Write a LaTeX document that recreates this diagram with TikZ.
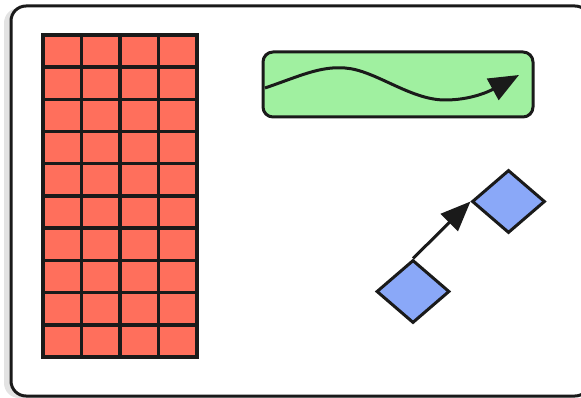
\documentclass[tikz,border=0pt]{standalone}
\usetikzlibrary{positioning,arrows.meta,shapes.geometric,shadows}
\definecolor{cellRed}{HTML}{FF6F5C}
\definecolor{waveGreen}{HTML}{A0F0A0}
\definecolor{gemBlue}{HTML}{8AA8F8}
\definecolor{inkDark}{HTML}{1A1A1A}

\begin{document}
\begin{tikzpicture}[
  x=1pt, y=-1pt,
  main/.style={-{Triangle[length=30pt,width=24pt]}, line width=3pt, draw=inkDark},
  frame/.style={
    rectangle,
    rounded corners=15pt,
    draw=inkDark,
    fill=white,
    line width=3pt,
    drop shadow={shadow xshift=-7pt, shadow yshift=-2pt, opacity=0.22}
  },
  cell/.style={
    rectangle,
    draw=inkDark,
    fill=cellRed,
    line width=3.4pt,
    minimum width=38.5pt,
    minimum height=32.2pt,
    inner sep=0pt
  },
  panel/.style={
    rectangle,
    rounded corners=10pt,
    draw=inkDark,
    fill=waveGreen,
    line width=3pt,
    minimum width=270pt,
    minimum height=65pt,
    inner sep=0pt
  },
  gem/.style={
    diamond,
    draw=inkDark,
    fill=gemBlue,
    line width=3pt,
    minimum width=73pt,
    minimum height=63pt,
    inner sep=0pt
  }
]
  \useasboundingbox (0,0) rectangle (581,398);

  % Outer card
  \node[frame, minimum width=579pt, minimum height=390pt] (card) at (300.5,201) {};

  % Red block of cells
  \foreach \c in {0,...,3}
    \foreach \r in {0,...,9}
      \node[cell] (cell-\c-\r) at ({62.25+38.5*\c},{51.1+32.2*\r}) {};

  % Green panel with the wave
  \node[panel] (wave) at (398,84.5) {};
  \coordinate (waveStart) at (265,88);
  \coordinate (waveEnd) at (519,75);
  \draw[main] (waveStart) .. controls (300,76) and (320,66) .. (345,68)
    .. controls (375,70) and (410,100) .. (445,100)
    .. controls (470,100) and (488,92) .. (waveEnd);

  % Blue diamonds
  \node[gem] (gemLow) at (413,291.5) {};
  \node[gem] (gemHigh) at (508.5,201.5) {};
  \draw[main] (gemLow.north) -- (gemHigh.west);
\end{tikzpicture}
\end{document}
